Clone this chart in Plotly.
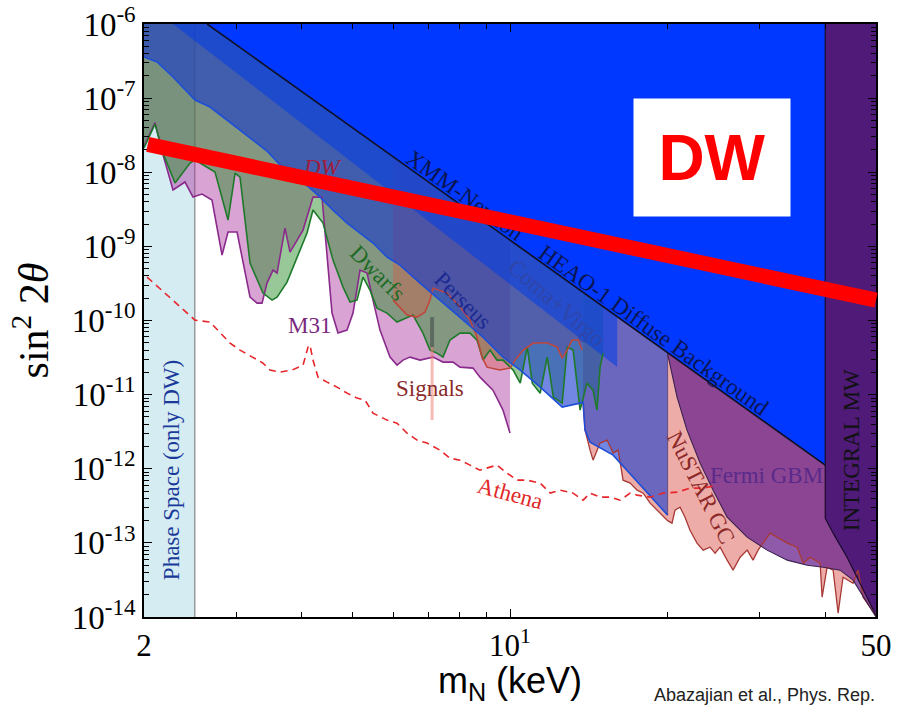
import numpy as np
import plotly.graph_objects as go

# ---------------------------------------------------------------------------
# Sterile-neutrino parameter space: mass m_N (keV) vs mixing sin^2(2θ).
# Bounds are stored as m_N in keV and log10(sin^2 2θ).
# ---------------------------------------------------------------------------
Y_TOP, Y_BOTTOM = -6.0, -14.0

PHASE_SPACE_M = [2.0, 2.5]

M31_M = [2.0, 2.099, 2.174, 2.272, 2.395, 2.481, 2.581, 2.697, 2.819, 2.894, 3.011,
         3.188, 3.288, 3.361, 3.435, 3.527, 3.590, 3.718, 3.801, 4.025, 4.205, 4.375,
         4.572, 4.694, 4.884, 5.014, 5.171, 5.333, 5.475, 5.646, 5.900, 6.085, 6.247,
         6.442, 6.732, 6.942, 7.128, 7.448, 7.783, 8.026, 8.498, 8.764, 9.279, 9.696, 10.0]
M31_LOG = [-7.65, -7.33, -7.76, -8.240, -8.132, -8.335, -8.294, -8.375, -9.117, -8.807, -8.807,
           -9.684, -9.765, -9.765, -9.495, -9.320, -9.360, -8.753, -9.077, -8.780, -8.335, -8.335,
           -9.900, -10.170, -10.129, -9.900, -9.320, -9.360, -9.725, -10.129, -10.494, -10.602, -10.534,
           -10.494, -10.534, -10.507, -10.494, -10.561, -10.561, -10.629, -10.642, -10.764, -10.939, -11.209, -11.519]

DWARFS_M = [2.0, 2.099, 2.174, 2.292, 2.449, 2.503, 2.733, 2.894, 2.985, 3.051, 3.188, 3.375,
            3.512, 3.590, 3.751, 3.920, 4.096, 4.205, 4.395, 4.592, 4.799, 4.949, 5.103, 5.240,
            5.403, 5.572, 5.823, 6.085, 6.528, 6.821, 7.034, 7.254, 7.448, 7.681, 8.026, 8.387,
            8.649, 8.880, 9.158, 9.444, 9.696, 10.14, 10.46, 10.79, 11.03, 11.42, 11.78, 12.10,
            12.58, 12.86, 13.20, 13.61, 14.03, 14.41, 14.66, 14.86, 15.06]
DWARFS_LOG = [-7.673, -7.350, -7.741, -8.146, -7.876, -7.835, -7.997, -8.645, -8.011, -8.065, -9.225, -9.630,
              -9.725, -9.684, -9.482, -9.144, -8.820, -8.510, -8.686, -9.185, -9.549, -9.752, -9.725, -9.414,
              -9.590, -9.833, -9.900, -10.021, -9.927, -10.170, -10.399, -10.440, -10.494, -10.264, -10.170, -10.170,
              -10.264, -10.534, -10.399, -10.534, -10.534, -10.669, -10.845, -10.359, -10.845, -10.980, -10.494, -11.034,
              -11.115, -10.359, -10.399, -11.209, -10.845, -10.939, -11.209, -10.629, -10.440]

PERSEUS_M = [5.979, 6.165, 6.358, 6.644, 6.881, 7.034, 7.128, 7.580, 8.026, 8.387, 8.649, 8.841,
             9.038, 9.569, 10.0, 10.23, 10.60, 11.08, 11.78, 12.31, 12.58, 12.86, 13.14, 13.49, 13.73]
PERSEUS_LOG = [-9.725, -9.833, -9.927, -9.954, -9.887, -9.725, -9.563, -9.630, -9.819, -9.995, -10.224, -10.494,
               -10.629, -10.669, -10.642, -10.534, -10.399, -10.305, -10.305, -10.359, -10.507, -10.399, -10.264, -10.264, -10.399]

XRAY_M = [2.0, 2.118, 2.272, 2.395, 2.503, 2.674, 2.881, 3.188, 3.435, 3.686, 3.920, 4.150, 4.337,
          4.592, 4.884, 5.171, 5.475, 5.823, 6.165, 6.732, 7.350, 8.132, 8.880, 9.696, 10.46, 11.42,
          12.58, 13.61, 13.79, 13.91, 14.22, 15.74, 20.0]
XRAY_LOG = [-6.445, -6.513, -6.715, -6.891, -7.026, -7.120, -7.296, -7.538, -7.714, -7.943, -8.065, -8.213, -8.335,
            -8.510, -8.686, -8.820, -8.955, -9.144, -9.252, -9.495, -9.725, -9.995, -10.224, -10.494, -10.669, -10.899,
            -11.169, -11.115, -11.101, -11.479, -11.641, -11.816, -12.626]

CLUSTER_BAND_M = [2.272, 2.64, 16.02, 16.02]
CLUSTER_BAND_LOG = [-6.0, -6.0, -9.949, -10.629]

HEAO_M = [2.64, 40.0]
HEAO_LOG = [-6.0, -11.951]

NUSTAR_M = [13.79, 13.91, 14.22, 14.41, 14.86, 15.33, 15.74, 16.09, 16.44, 16.96, 17.49, 17.96, 18.52,
            19.10, 19.61, 20.0, 20.39, 20.66, 21.12, 21.59, 22.07, 22.76, 23.38, 24.10, 24.64, 25.19,
            25.98, 26.67, 27.51, 28.37, 29.12, 29.77, 30.42, 31.38, 32.37, 33.84, 35.36, 36.30, 37.43,
            39.11, 39.45, 40.33, 41.41, 42.33, 43.25, 45.21, 46.19, 47.24, 48.72, 49.79, 50.0]
NUSTAR_LOG = [-11.101, -11.479, -11.749, -11.884, -11.654, -11.614, -11.789, -11.749, -12.154, -12.194, -12.289, -12.329, -12.464,
              -12.559, -12.653, -12.700, -12.734, -12.559, -12.518, -12.653, -12.829, -13.004, -13.098, -13.058, -13.139, -13.058,
              -13.233, -13.368, -13.193, -13.098, -13.233, -13.098, -13.004, -12.869, -12.923, -13.004, -13.058, -13.274, -13.193,
              -13.274, -13.733, -13.328, -13.368, -13.948, -13.463, -13.544, -13.368, -13.733, -13.868, -13.948, -14.0]

FERMI_TOP_M = [20.0, 40.0, 50.0]
FERMI_TOP_LOG = [-10.433, -11.951, -11.951]
FERMI_M = [20.0, 20.85, 21.78, 23.07, 24.43, 25.98, 28.37, 30.98, 33.84, 36.94, 39.63, 42.70, 45.21, 48.08, 50.0]
FERMI_LOG = [-10.45, -11.034, -11.479, -11.924, -12.289, -12.653, -12.923, -13.098, -13.233, -13.301, -13.328,
             -13.368, -13.503, -13.813, -14.0]

INTEGRAL_M = [40.0, 50.0, 50.0, 48.08, 46.0, 44.02, 41.41, 40.0]
INTEGRAL_LOG = [-6.0, -6.0, -13.976, -13.733, -13.463, -13.193, -12.869, -12.667]

ATHENA_M = [2.027, 2.193, 2.343, 2.503, 2.674, 2.769, 2.920, 3.051, 3.230, 3.375, 3.481, 3.638, 3.835,
            4.025, 4.114, 4.150, 4.205, 4.299, 4.473, 4.674, 4.884, 5.103, 5.286, 5.475, 5.823, 6.085,
            6.358, 6.644, 6.942, 7.350, 7.681, 8.026, 8.387, 8.764, 9.158, 9.444, 9.869, 10.32, 10.79,
            11.42, 11.94, 12.47, 13.20, 13.79, 14.22, 14.86, 15.53, 16.23, 16.96, 17.49, 18.52, 19.61,
            20.85, 22.07, 23.38, 24.86]
ATHENA_LOG = [-9.414, -9.630, -9.819, -9.995, -10.021, -10.129, -10.305, -10.399, -10.494, -10.575, -10.669, -10.696, -10.669,
              -10.602, -10.359, -10.332, -10.534, -10.764, -10.831, -10.899, -10.980, -11.047, -11.074, -11.250, -11.344, -11.385,
              -11.519, -11.614, -11.654, -11.749, -11.857, -11.884, -11.951, -12.019, -11.978, -11.951, -12.059, -12.154, -12.154,
              -12.194, -12.329, -12.289, -12.329, -12.424, -12.329, -12.383, -12.383, -12.424, -12.329, -12.356, -12.383, -12.329,
              -12.316, -12.262, -12.262, -12.221]

SIGNAL_M = 7.1
SIGNAL_CORE_LOG = [-9.954, -10.359]
SIGNAL_TAIL_LOG = [-10.359, -11.344]

# Dodelson-Widrow production line
DW_LINE_M = [2.02, 50.0]
DW_LINE_LOG = [-7.619, -9.725]
DW_BOX_M, DW_BOX_LOG = 24.32, -7.80

X_TICKS = [2, 10, 50]
X_TICKTEXT = ["2", "10<sup>1</sup>", "50"]
X_MINOR = [3, 4, 5, 6, 7, 8, 9, 20, 30, 40]
Y_EXPONENTS = list(range(-14, -5))
Y_TICKS = [10.0 ** e for e in Y_EXPONENTS]
Y_TICKTEXT = [f"10<sup>{e}</sup>" for e in Y_EXPONENTS]
Y_MINOR = [k * 10.0 ** e for e in range(-14, -6) for k in range(2, 10)]

# (text, m_N, log10 sin^2 2θ, angle, colour, italic)
LABELS = [
    ("XMM-Newton", 8.21, -8.31, 35.5, "#0b1550", False),
    ("HEAO-1 Diffuse Background", 18.84, -10.13, 35.5, "#0b1550", False),
    ("DW", 4.375, -7.93, 0, "#a01c3c", True),
    ("Dwarfs", 5.60, -9.36, 45, "#1d6b25", False),
    ("Perseus", 8.13, -9.725, 45, "#1c2a90", False),
    ("Coma+Virgo", 12.31, -9.765, 41, "#2f45a8", False),
    ("M31", 4.132, -10.062, 0, "#7a2a80", False),
    ("Signals", 7.03, -10.912, 0, "#8a2a2a", False),
    ("Athena", 10.0, -12.33, 15, "#e02828", False),
    ("NuSTAR GC", 23.17, -12.248, 63, "#8c2828", False),
    ("Fermi GBM", 30.83, -12.086, 0, "#5a2a8a", False),
    ("INTEGRAL MW", 44.81, -11.749, -90, "#111111", False),
    ("Phase Space (only DW)", 2.252, -12.019, -90, "#1a3a9a", False),
]

SERIF = "Liberation Serif, Times New Roman, serif"
SANS = "Liberation Sans, Arial, sans-serif"

fig = go.Figure()


def pow10(v):
    return np.power(10.0, np.asarray(v, dtype=float))


def add_fill(m, logs, color):
    fig.add_trace(go.Scatter(x=m, y=pow10(logs), mode="lines", fill="toself",
                             fillcolor=color, line=dict(width=0, color=color),
                             hoverinfo="skip", showlegend=False))


def add_line(m, logs, color, width=1.5, dash=None):
    fig.add_trace(go.Scatter(x=m, y=pow10(logs), mode="lines",
                             line=dict(color=color, width=width, dash=dash),
                             hoverinfo="skip", showlegend=False))


# Phase-space bound
add_fill([PHASE_SPACE_M[0], PHASE_SPACE_M[1], PHASE_SPACE_M[1], PHASE_SPACE_M[0]],
         [Y_BOTTOM, Y_BOTTOM, Y_TOP, Y_TOP], "#d5ecf3")
add_line([PHASE_SPACE_M[1], PHASE_SPACE_M[1]], [Y_BOTTOM, Y_TOP], "#9a9a9a", 1.5)

# NuSTAR Galactic Centre
add_fill(NUSTAR_M + [NUSTAR_M[-1], NUSTAR_M[0]], NUSTAR_LOG + [Y_TOP, Y_TOP], "rgba(215,70,60,0.45)")
# M31
add_fill(M31_M + [M31_M[-1], M31_M[0]], M31_LOG + [Y_TOP, Y_TOP], "rgba(170,50,160,0.45)")
# Dwarf galaxies
add_fill(DWARFS_M + [DWARFS_M[-1], DWARFS_M[0]], DWARFS_LOG + [Y_TOP, Y_TOP], "rgba(40,140,40,0.48)")
# Perseus
add_fill(PERSEUS_M + [PERSEUS_M[-1], PERSEUS_M[0]], PERSEUS_LOG + [Y_TOP, Y_TOP], "rgba(220,80,60,0.35)")
# Stacked X-ray bound
add_fill(XRAY_M + [XRAY_M[-1], XRAY_M[0]], XRAY_LOG + [Y_TOP, Y_TOP], "rgba(20,55,205,0.6)")
# Cluster band (Coma+Virgo)
add_fill(CLUSTER_BAND_M, CLUSTER_BAND_LOG, "rgba(0,60,230,0.55)")
# Fermi GBM
add_fill(FERMI_TOP_M + FERMI_M[::-1], FERMI_TOP_LOG + FERMI_LOG[::-1], "rgba(105,35,140,0.75)")
# XMM-Newton / HEAO-1 diffuse background
add_fill([HEAO_M[0], HEAO_M[1], HEAO_M[1]], [HEAO_LOG[0], HEAO_LOG[1], Y_TOP], "#0038ff")
# INTEGRAL Milky Way
add_fill(INTEGRAL_M, INTEGRAL_LOG, "#4f1a78")

# Boundary curves
add_line(M31_M, M31_LOG, "#8a2a8c", 1.6)
add_line(DWARFS_M, DWARFS_LOG, "#1e7a2a", 1.6)
add_line(PERSEUS_M, PERSEUS_LOG, "#c0453a", 1.5)
add_line(NUSTAR_M, NUSTAR_LOG, "#a83a36", 1.3)
add_line(XRAY_M, XRAY_LOG, "#1f4ed8", 1.6)
add_line([FERMI_TOP_M[0], FERMI_TOP_M[0]], [FERMI_TOP_LOG[0], XRAY_LOG[-1]], "rgba(60,40,90,0.6)", 1.0)
add_line(FERMI_M, FERMI_LOG, "#3a2050", 1.1)
add_line(HEAO_M, HEAO_LOG, "#101020", 1.6)
add_line(INTEGRAL_M[-1:] + INTEGRAL_M[:1], INTEGRAL_LOG[-1:] + INTEGRAL_LOG[:1], "#1a0a2a", 1.2)
add_line(INTEGRAL_M[2:], INTEGRAL_LOG[2:], "#1a0a2a", 1.2)
add_line(ATHENA_M, ATHENA_LOG, "#e8262a", 1.6, dash="7px,5px")

# 3.5 keV signal
add_line([SIGNAL_M, SIGNAL_M], SIGNAL_TAIL_LOG, "rgba(240,120,110,0.5)", 3)
add_line([SIGNAL_M, SIGNAL_M], SIGNAL_CORE_LOG, "rgba(60,70,70,0.55)", 4)

# Region labels
for text, m, ly, angle, color, italic in LABELS:
    fig.add_annotation(x=np.log10(m), y=ly, xref="x", yref="y",
                       text=f"<i>{text}</i>" if italic else text, showarrow=False,
                       textangle=angle, font=dict(family=SERIF, size=23, color=color))

# DW tag
fig.add_annotation(x=np.log10(DW_BOX_M), y=DW_BOX_LOG, xref="x", yref="y",
                   text="<b>DW</b>", showarrow=False, bgcolor="white",
                   width=156, height=117, borderpad=0,
                   font=dict(family=SANS, size=64, color="#ff0000"))

# Citation
fig.add_annotation(x=(652 - 144) / 732, y=-0.131, xref="paper", yref="paper",
                   xanchor="left", yanchor="middle", showarrow=False,
                   text="Abazajian et al., Phys. Rep.",
                   font=dict(family=SANS, size=18, color="#222222"))

# Dodelson-Widrow line on top of everything
fig.add_annotation(x=np.log10(DW_LINE_M[1]), y=DW_LINE_LOG[1],
                   ax=np.log10(DW_LINE_M[0]), ay=DW_LINE_LOG[0],
                   xref="x", yref="y", axref="x", ayref="y", text="",
                   showarrow=True, arrowhead=0, arrowwidth=15, arrowcolor="#ff0000",
                   standoff=0, startstandoff=0)

axis_common = dict(showline=True, linecolor="black", linewidth=1.5, mirror="ticks",
                   ticks="inside", tickcolor="black", tickwidth=1.2, ticklen=8,
                   showgrid=False, zeroline=False)

fig.update_xaxes(type="log", range=[np.log10(2), np.log10(50)],
                 tickvals=X_TICKS, ticktext=X_TICKTEXT,
                 tickfont=dict(family=SERIF, size=31, color="black"),
                 minor=dict(tickvals=X_MINOR, ticks="inside", ticklen=5, tickcolor="black", showgrid=False),
                 title=dict(text="m<sub>N</sub> (keV)", font=dict(family=SANS, size=36, color="black"), standoff=4),
                 **axis_common)
fig.update_yaxes(type="log", range=[Y_BOTTOM, Y_TOP],
                 tickvals=Y_TICKS, ticktext=Y_TICKTEXT,
                 tickfont=dict(family=SERIF, size=33, color="black"),
                 minor=dict(tickvals=Y_MINOR, ticks="inside", ticklen=5, tickcolor="black", showgrid=False),
                 title=dict(text="sin<sup>2</sup> 2<i>θ</i>", font=dict(family=SERIF, size=42, color="black"), standoff=10),
                 **axis_common)

fig.update_layout(width=901, height=706, margin=dict(l=144, r=25, t=24, b=89, autoexpand=False),
                  paper_bgcolor="white", plot_bgcolor="white", showlegend=False, hovermode=False)

fig.write_html("out.html")
